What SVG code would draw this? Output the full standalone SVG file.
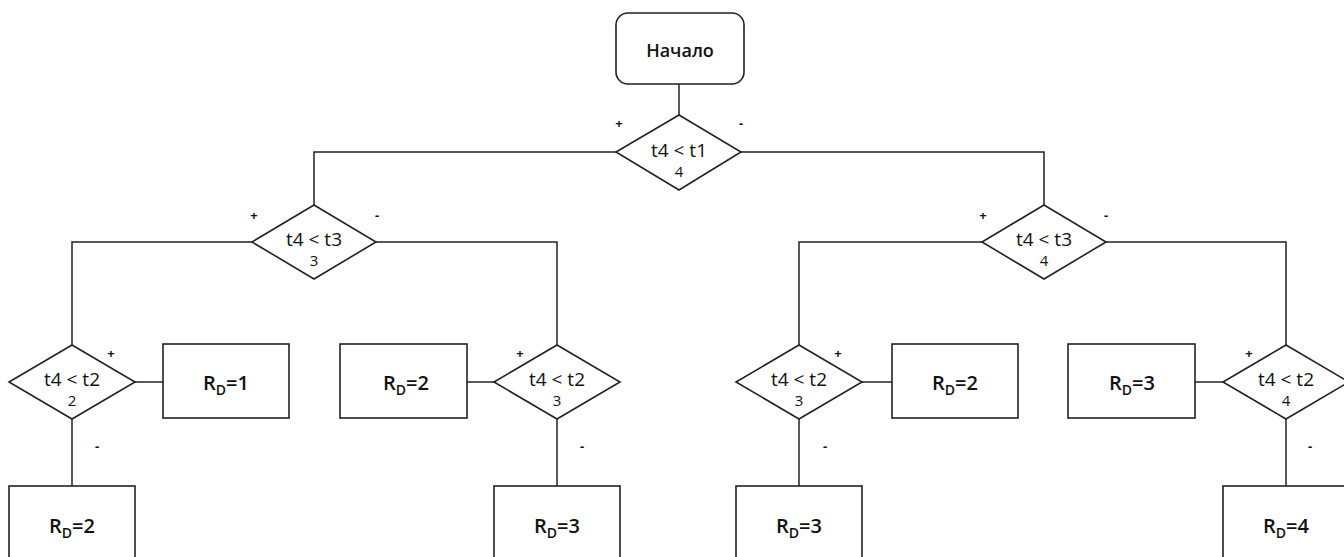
<svg xmlns="http://www.w3.org/2000/svg" width="1344" height="557" viewBox="0 0 1344 557">
<style>
.shape{fill:#fff;stroke:#222;stroke-width:1.6}
.conn{fill:none;stroke:#222;stroke-width:1.5}
.t1{font-family:"Open Sans","Noto Sans",sans-serif;font-size:19px;font-weight:500;text-anchor:middle;fill:#111}
.t2{font-family:"Open Sans","Noto Sans",sans-serif;font-size:15px;font-weight:500;text-anchor:middle;fill:#111}
.rd{font-family:"Open Sans","Noto Sans",sans-serif;font-size:20px;font-weight:600;text-anchor:middle;fill:#111}
.sub{font-size:14px}
.sg{font-family:"Open Sans","Noto Sans",sans-serif;font-size:13px;font-weight:700;text-anchor:middle;fill:#111}
.st{font-family:"Open Sans","Noto Sans",sans-serif;font-size:18px;font-weight:600;text-anchor:middle;fill:#111}
</style>
<rect width="1344" height="557" fill="#fff"/>
<g id="connectors">
<path class="conn" d="M679,84 V115"/>
<path class="conn" d="M616,152 H314 V205"/>
<path class="conn" d="M741,152 H1044 V205"/>
<path class="conn" d="M252,242 H72 V345"/>
<path class="conn" d="M376,242 H557 V345"/>
<path class="conn" d="M982,242 H799 V345"/>
<path class="conn" d="M1106,242 H1286 V345"/>
<path class="conn" d="M135,382 H163"/>
<path class="conn" d="M72,419 V486"/>
<path class="conn" d="M494,382 H467"/>
<path class="conn" d="M557,419 V486"/>
<path class="conn" d="M862,382 H892"/>
<path class="conn" d="M799,419 V486"/>
<path class="conn" d="M1223,382 H1195"/>
<path class="conn" d="M1286,419 V486"/>
<text class="sg" x="619" y="128">+</text>
<text class="sg" x="741" y="128">-</text>
<text class="sg" x="254" y="220">+</text>
<text class="sg" x="377" y="220">-</text>
<text class="sg" x="983" y="220">+</text>
<text class="sg" x="1106" y="220">-</text>
<text class="sg" x="111" y="358">+</text>
<text class="sg" x="97" y="451">-</text>
<text class="sg" x="520" y="358">+</text>
<text class="sg" x="582" y="451">-</text>
<text class="sg" x="838" y="358">+</text>
<text class="sg" x="825" y="451">-</text>
<text class="sg" x="1249" y="358">+</text>
<text class="sg" x="1310" y="451">-</text>
</g>
<g id="start">
<rect class="shape" x="616" y="13" width="128" height="71" rx="12"/>
<text class="st" x="680" y="57">Начало</text>
</g>
<g id="d1">
<polygon class="shape" points="679,115 741,152 679,190 616,152"/>
<text class="t1" x="679" y="157">t4 &lt; t1</text>
<text class="t2" x="679" y="177">4</text>
</g>
<g id="d2">
<polygon class="shape" points="314,205 376,242 314,279 252,242"/>
<text class="t1" x="314" y="246">t4 &lt; t3</text>
<text class="t2" x="314" y="266">3</text>
</g>
<g id="d6">
<polygon class="shape" points="1044,205 1106,242 1044,279 982,242"/>
<text class="t1" x="1044" y="246">t4 &lt; t3</text>
<text class="t2" x="1044" y="266">4</text>
</g>
<g id="d3">
<polygon class="shape" points="72,345 135,382 72,419 9,382"/>
<text class="t1" x="72" y="386">t4 &lt; t2</text>
<text class="t2" x="72" y="406">2</text>
</g>
<g id="d4">
<polygon class="shape" points="557,345 620,382 557,419 494,382"/>
<text class="t1" x="557" y="386">t4 &lt; t2</text>
<text class="t2" x="557" y="406">3</text>
</g>
<g id="d5">
<polygon class="shape" points="799,345 862,382 799,419 736,382"/>
<text class="t1" x="799" y="386">t4 &lt; t2</text>
<text class="t2" x="799" y="406">3</text>
</g>
<g id="d7">
<polygon class="shape" points="1286,345 1349,382 1286,419 1223,382"/>
<text class="t1" x="1286" y="386">t4 &lt; t2</text>
<text class="t2" x="1286" y="406">4</text>
</g>
<g id="b1">
<rect class="shape" x="163" y="344" width="126" height="74"/>
<text class="rd" x="226" y="390">R<tspan class="sub" dy="5">D</tspan><tspan dy="-5">=1</tspan></text>
</g>
<g id="b2">
<rect class="shape" x="9" y="486" width="126" height="90"/>
<text class="rd" x="72" y="533">R<tspan class="sub" dy="5">D</tspan><tspan dy="-5">=2</tspan></text>
</g>
<g id="b3">
<rect class="shape" x="340" y="344" width="127" height="74"/>
<text class="rd" x="406" y="390">R<tspan class="sub" dy="5">D</tspan><tspan dy="-5">=2</tspan></text>
</g>
<g id="b4">
<rect class="shape" x="494" y="486" width="126" height="90"/>
<text class="rd" x="557" y="533">R<tspan class="sub" dy="5">D</tspan><tspan dy="-5">=3</tspan></text>
</g>
<g id="b5">
<rect class="shape" x="892" y="344" width="126" height="74"/>
<text class="rd" x="955" y="390">R<tspan class="sub" dy="5">D</tspan><tspan dy="-5">=2</tspan></text>
</g>
<g id="b6">
<rect class="shape" x="736" y="486" width="126" height="90"/>
<text class="rd" x="799" y="533">R<tspan class="sub" dy="5">D</tspan><tspan dy="-5">=3</tspan></text>
</g>
<g id="b7">
<rect class="shape" x="1068" y="344" width="127" height="74"/>
<text class="rd" x="1132" y="390">R<tspan class="sub" dy="5">D</tspan><tspan dy="-5">=3</tspan></text>
</g>
<g id="b8">
<rect class="shape" x="1223" y="486" width="126" height="90"/>
<text class="rd" x="1286" y="533">R<tspan class="sub" dy="5">D</tspan><tspan dy="-5">=4</tspan></text>
</g>
</svg>
